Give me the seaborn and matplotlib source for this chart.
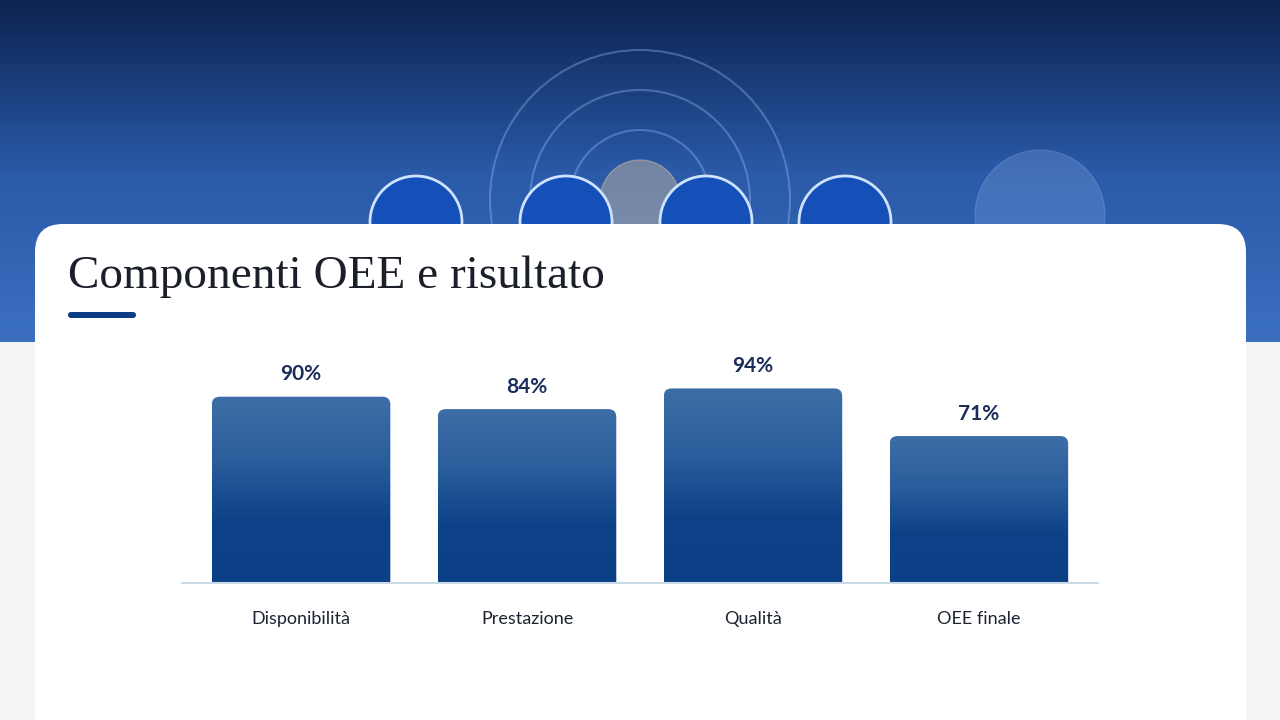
import numpy as np
import matplotlib
matplotlib.use("Agg")
import matplotlib.pyplot as plt
import seaborn as sns
import pandas as pd
from matplotlib.patches import FancyBboxPatch, Rectangle, Circle
from matplotlib.colors import LinearSegmentedColormap

categories = ["Disponibilità", "Prestazione", "Qualità", "OEE finale"]
values = [90, 84, 94, 71]
value_labels = ["90%", "84%", "94%", "71%"]
title = "Componenti OEE e risultato"

sns.set_theme(style="white")
plt.rcParams['font.family'] = ['Lato', 'DejaVu Sans']

fig = plt.figure(figsize=(12.8, 7.2), dpi=100)
fig.patch.set_facecolor("#f4f5f6")

bg = fig.add_axes([0, 0, 1, 1], zorder=0)
bg.set_xlim(0, 1280); bg.set_ylim(720, 0); bg.axis("off")
grad = np.linspace(0, 1, 100)[:, None]
cmap = LinearSegmentedColormap.from_list("b", ["#0d2350", "#2a5aa8", "#3b6fc0"])
bg.imshow(grad, extent=[0, 1280, 342, 0], cmap=cmap, aspect="auto")
for cx, r in [(640, 150), (640, 110), (640, 70)]:
    bg.add_patch(Circle((cx, 200), r, fill=False, ec="#9ec3ff", alpha=0.35, lw=1.5))
bg.add_patch(Circle((640, 200), 40, color="#ffd9a0", alpha=0.35))
for cx in [416, 566, 706, 845]:
    bg.add_patch(Circle((cx, 222), 46, color="#1450b8", ec="#cfe2ff", lw=2))
bg.add_patch(Circle((1040, 215), 65, color="#8fb4e8", alpha=0.25))
bg.add_patch(FancyBboxPatch((35, 224), 1211, 560, boxstyle="round,pad=0,rounding_size=28",
                            fc="white", ec="none"))
bg.text(68, 277, title, fontsize=34, family=["Liberation Serif", "DejaVu Serif"],
        color="#1b1f2a", va="center", ha="left")
bg.add_patch(FancyBboxPatch((68, 312), 68, 6, boxstyle="round,pad=0,rounding_size=3",
                            fc="#0c3d84", ec="none"))

ax = fig.add_axes([182/1280, 1-583/720, 916/1280, 207/720], zorder=2)
ax.patch.set_alpha(0)
df = pd.DataFrame({"cat": categories, "val": values})
sns.barplot(data=df, x="cat", y="val", ax=ax, color="#1f4f8f", width=0.79, saturation=1)
bcmap = LinearSegmentedColormap.from_list("bar", ["#0b3f86", "#0d4288", "#2a5e9c", "#3d6ea6"])
asp = 100/4.054*916/207
for p, lab in zip(ax.patches, value_labels):
    x0, w, h = p.get_x(), p.get_width(), p.get_height()
    p.set_facecolor("none"); p.set_edgecolor("none")
    fb = FancyBboxPatch((x0, -6), w, h + 6, boxstyle="round,pad=0,rounding_size=0.035",
                        mutation_aspect=asp, fc="none", ec="none", clip_on=False)
    ax.add_patch(fb)
    im = ax.imshow(np.linspace(0, 1, 100)[:, None], extent=[x0, x0 + w, 0, h],
                   cmap=bcmap, origin="lower", aspect="auto", zorder=2)
    im.set_clip_path(fb)
    ax.text(x0 + w/2, h + 6, lab, ha="center", va="bottom", fontsize=15,
            fontweight="bold", color="#1c2d5c")
ax.set_xlim(-0.527, 3.527)
ax.set_ylim(0, 100)
ax.set_xlabel(""); ax.set_ylabel("")
ax.set_yticks([])
for s in ["top", "right", "left"]:
    ax.spines[s].set_visible(False)
ax.spines["bottom"].set_color("#c9d9e6"); ax.spines["bottom"].set_linewidth(1.5)
ax.spines["bottom"].set_zorder(5)
ax.tick_params(axis="x", length=0, pad=20, labelsize=13, labelcolor="#1d2233")

fig.savefig("out.png", dpi=100)
